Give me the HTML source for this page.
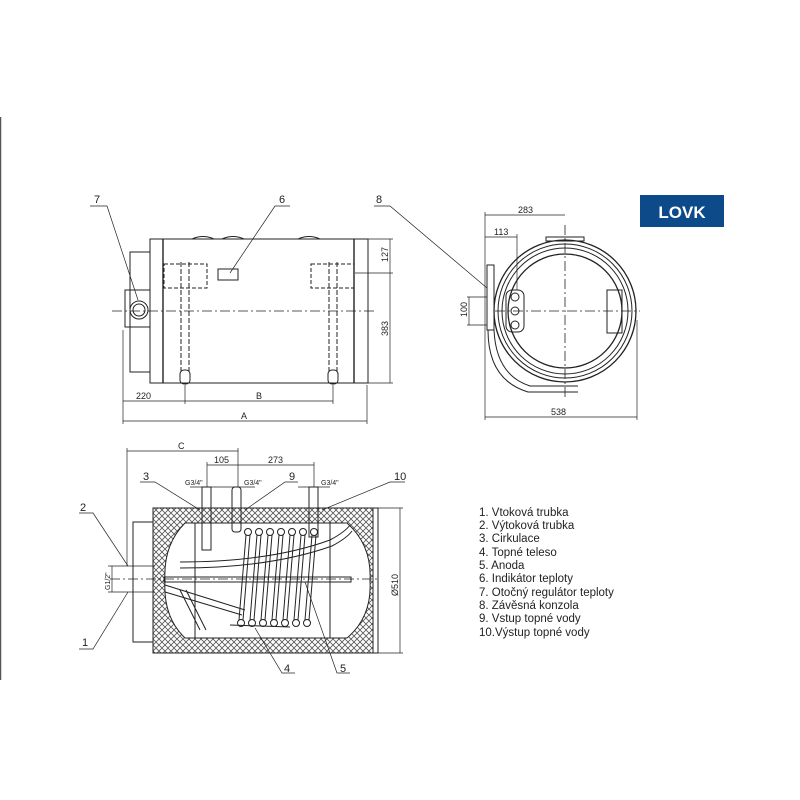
<!DOCTYPE html>
<html><head><meta charset="utf-8"><style>
html,body{margin:0;padding:0;background:#fff;}
svg{display:block;}
text{font-family:"Liberation Sans",sans-serif;fill:#222;}
</style></head><body>
<svg width="800" height="800" viewBox="0 0 800 800" xmlns="http://www.w3.org/2000/svg">
<defs>
<pattern id="hatch" width="6" height="6" patternUnits="userSpaceOnUse">
<rect width="6" height="6" fill="#fff"/>
<path d="M0 0L6 6M6 0L0 6" stroke="#555" stroke-width="0.8"/>
</pattern>
</defs>
<line x1="0.5" y1="117" x2="0.5" y2="680" stroke="#555" stroke-width="1.5"/>

<g fill="none" stroke="#222" stroke-width="1">
<rect x="150" y="239" width="218" height="144"/>
<line x1="163" y1="239" x2="163" y2="383" stroke-width="1.4"/>
<line x1="354" y1="239" x2="354" y2="383" stroke-width="1.4"/>
<rect x="130" y="252" width="20" height="120"/>
<rect x="125" y="290" width="25" height="37"/>
<circle cx="139" cy="310" r="9"/>
<circle cx="139" cy="310" r="6"/>
<line x1="112" y1="311" x2="375" y2="311" stroke-dasharray="10,3,2,3" stroke-width="0.8"/>
<rect x="164" y="264" width="43" height="24" stroke-dasharray="4,2"/>
<rect x="311" y="264" width="43" height="24" stroke-dasharray="4,2"/>
<line x1="181" y1="262" x2="181" y2="372" stroke-dasharray="5,2"/>
<line x1="189" y1="262" x2="189" y2="372" stroke-dasharray="5,2"/>
<line x1="329" y1="262" x2="329" y2="372" stroke-dasharray="5,2"/>
<line x1="337" y1="262" x2="337" y2="372" stroke-dasharray="5,2"/>
<rect x="180" y="370" width="10" height="14" rx="4"/>
<rect x="328" y="370" width="10" height="14" rx="4"/>
<rect x="218" y="269" width="20" height="11"/>
<path d="M192 239 q11 -5 22 0 M222 239 q11 -5 22 0 M298 239 q11 -5 22 0"/>
<line x1="368" y1="239" x2="393" y2="239" stroke-width="0.7"/>
<line x1="355" y1="273" x2="393" y2="273" stroke-width="0.7"/>
<line x1="368" y1="383" x2="393" y2="383" stroke-width="0.7"/>
<line x1="390" y1="239" x2="390" y2="383" stroke-width="0.7"/>
<line x1="123" y1="330" x2="123" y2="424" stroke-width="0.7"/>
<line x1="185" y1="385" x2="185" y2="404" stroke-width="0.7"/>
<line x1="333" y1="385" x2="333" y2="404" stroke-width="0.7"/>
<line x1="367" y1="385" x2="367" y2="424" stroke-width="0.7"/>
<line x1="123" y1="401" x2="333" y2="401" stroke-width="0.7"/>
<line x1="123" y1="421" x2="367" y2="421" stroke-width="0.7"/>
<polyline points="90,206 107,206 138,300" stroke-width="0.7"/>
<polyline points="290,206 275,206 230,273" stroke-width="0.7"/>
<polyline points="374,206 390,206 487,288" stroke-width="0.7"/>

<circle cx="565" cy="311" r="71" stroke-width="1.3"/>
<circle cx="565" cy="311" r="67"/>
<circle cx="565" cy="311" r="63"/>
<circle cx="565" cy="311" r="57" stroke-width="1.3"/>
<rect x="487" y="265" width="7" height="65"/>
<path d="M488 330 q0 50 40 62 l50 0" />
<path d="M494 330 q2 45 36 56 l48 0"/>
<rect x="506" y="290" width="18" height="42" rx="6"/>
<circle cx="515" cy="297" r="4"/><circle cx="515" cy="311" r="4"/><circle cx="515" cy="325" r="4"/>
<rect x="607" y="290" width="15" height="43"/>
<rect x="546" y="237" width="38" height="4"/>
<line x1="495" y1="311" x2="640" y2="311" stroke-dasharray="10,3,2,3" stroke-width="0.8"/>
<line x1="565" y1="225" x2="565" y2="400" stroke-dasharray="10,3,2,3" stroke-width="0.8"/>
<line x1="485" y1="212" x2="485" y2="420" stroke-width="0.7"/>
<line x1="637" y1="320" x2="637" y2="420" stroke-width="0.7"/>
<line x1="485" y1="215" x2="565" y2="215" stroke-width="0.7"/>
<line x1="485" y1="237" x2="517" y2="237" stroke-width="0.7"/>
<line x1="517" y1="234" x2="517" y2="290" stroke-width="0.7"/>
<line x1="485" y1="417" x2="637" y2="417" stroke-width="0.7"/>
<line x1="467" y1="297" x2="487" y2="297" stroke-width="0.7"/>
<line x1="467" y1="325" x2="487" y2="325" stroke-width="0.7"/>
<line x1="469" y1="297" x2="469" y2="325" stroke-width="0.7"/>

<rect x="153" y="508" width="220" height="145" fill="url(#hatch)"/>
<path d="M185 523 L347 523 Q372 545 370 581 Q372 617 347 638 L185 638 Q163 617 165 581 Q163 545 185 523 Z" fill="#fff"/>
<rect x="373" y="508" width="5" height="145"/>
<rect x="133" y="522" width="20" height="120"/>
<line x1="195" y1="523" x2="195" y2="638"/>
<line x1="330" y1="523" x2="330" y2="638"/>
<g>
<circle cx="248" cy="532" r="3.5"/><circle cx="259" cy="532" r="3.5"/><circle cx="270" cy="532" r="3.5"/><circle cx="281" cy="532" r="3.5"/><circle cx="292" cy="532" r="3.5"/><circle cx="303" cy="532" r="3.5"/><circle cx="314" cy="532" r="3.5"/>
<circle cx="241" cy="623" r="3.5"/><circle cx="252" cy="623" r="3.5"/><circle cx="263" cy="623" r="3.5"/><circle cx="274" cy="623" r="3.5"/><circle cx="285" cy="623" r="3.5"/><circle cx="296" cy="623" r="3.5"/><circle cx="307" cy="623" r="3.5"/>
<path d="M246 535 L239 620 M250 535 L243 620 M257 535 L250 620 M261 535 L254 620 M268 535 L261 620 M272 535 L265 620 M279 535 L272 620 M283 535 L276 620 M290 535 L283 620 M294 535 L287 620 M301 535 L294 620 M305 535 L298 620 M312 535 L305 620 M316 535 L309 620"/>
</g>
<path d="M180 562 Q270 562 330 540 Q345 532 350 525"/>
<path d="M180 568 Q270 568 332 546 Q347 538 352 531"/>
<rect x="164" y="577" width="187" height="5"/>
<path d="M165 585 L245 610 M165 592 L242 615"/>
<path d="M180 590 L200 630 M186 590 L206 630"/>
<path d="M230 625 L290 627"/>
<line x1="110" y1="579" x2="380" y2="579" stroke-dasharray="10,3,2,3" stroke-width="0.8"/>
<line x1="108" y1="566" x2="155" y2="566" stroke-width="0.7"/>
<line x1="108" y1="592" x2="155" y2="592" stroke-width="0.7"/>
<line x1="112" y1="566" x2="112" y2="592" stroke-width="0.7"/>
<rect x="202" y="487" width="9" height="63"/>
<rect x="232" y="487" width="9" height="45" rx="3"/>
<rect x="309" y="487" width="9" height="50"/>
<line x1="190" y1="487" x2="222" y2="487" stroke-width="0.7"/>
<line x1="222" y1="487" x2="255" y2="487" stroke-width="0.7"/>
<line x1="298" y1="487" x2="330" y2="487" stroke-width="0.7"/>
<line x1="127" y1="451" x2="238" y2="451" stroke-width="0.7"/>
<line x1="127" y1="448" x2="127" y2="566" stroke-width="0.7"/>
<line x1="238" y1="448" x2="238" y2="487" stroke-width="0.7"/>
<line x1="207" y1="465" x2="314" y2="465" stroke-width="0.7"/>
<line x1="207" y1="462" x2="207" y2="487" stroke-width="0.7"/>
<line x1="314" y1="462" x2="314" y2="487" stroke-width="0.7"/>
<line x1="373" y1="508" x2="403" y2="508" stroke-width="0.7"/>
<line x1="373" y1="653" x2="403" y2="653" stroke-width="0.7"/>
<line x1="400" y1="508" x2="400" y2="653" stroke-width="0.7"/>
<polyline points="140,482 155,482 200,510" stroke-width="0.7"/>
<polyline points="298,482 285,482 245,510" stroke-width="0.7"/>
<polyline points="405,482 390,482 322,510" stroke-width="0.7"/>
<polyline points="79,513 93,513 128,566" stroke-width="0.7"/>
<polyline points="79,649 93,649 128,592" stroke-width="0.7"/>
<polyline points="295,673 282,673 255,628" stroke-width="0.7"/>
<polyline points="350,673 337,673 305,582" stroke-width="0.7"/>
</g>

<g font-size="9">
<text x="94" y="203" font-size="11">7</text>
<text x="279" y="203" font-size="11">6</text>
<text x="376" y="203" font-size="11">8</text>
<text x="136" y="399">220</text>
<text x="256" y="399">B</text>
<text x="241" y="419">A</text>
<text x="0" y="0" transform="translate(388,262) rotate(-90)">127</text>
<text x="0" y="0" transform="translate(388,336) rotate(-90)">383</text>
<text x="518" y="213">283</text>
<text x="494" y="235">113</text>
<text x="551" y="415">538</text>
<text x="0" y="0" transform="translate(467,317) rotate(-90)">100</text>
<text x="178" y="449">C</text>
<text x="214" y="463">105</text>
<text x="268" y="463">273</text>
<text x="185" y="485" font-size="7">G3/4"</text>
<text x="244" y="485" font-size="7">G3/4"</text>
<text x="321" y="485" font-size="7">G3/4"</text>
<text x="0" y="0" font-size="7" transform="translate(110,590) rotate(-90)">G1/2"</text>
<text x="0" y="0" transform="translate(398,596) rotate(-90)">Ø510</text>
<text x="143" y="480" font-size="11">3</text>
<text x="289" y="480" font-size="11">9</text>
<text x="394" y="480" font-size="11">10</text>
<text x="80" y="511" font-size="11">2</text>
<text x="82" y="646" font-size="11">1</text>
<text x="284" y="672" font-size="11">4</text>
<text x="340" y="672" font-size="11">5</text>
</g>

<rect x="640" y="195" width="84" height="32" fill="#0d4a8a"/>
<text x="682" y="218" font-size="17" font-weight="bold" text-anchor="middle" style="fill:#fff">LOVK</text>

<g font-size="11.5">
<text x="479" y="516">1.  Vtoková trubka</text>
<text x="479" y="529">2.  Výtoková trubka</text>
<text x="479" y="542">3.  Cirkulace</text>
<text x="479" y="556">4.  Topné teleso</text>
<text x="479" y="569">5.  Anoda</text>
<text x="479" y="582">6.  Indikátor teploty</text>
<text x="479" y="596">7.  Otočný regulátor teploty</text>
<text x="479" y="609">8.  Závěsná konzola</text>
<text x="479" y="622">9.  Vstup topné vody</text>
<text x="479" y="636">10.Výstup topné vody</text>
</g>
</svg>
</body></html>
